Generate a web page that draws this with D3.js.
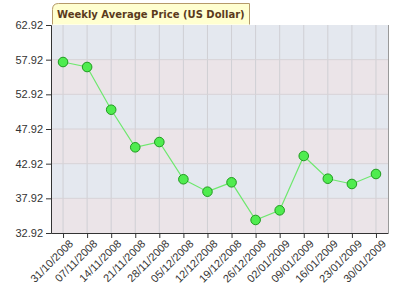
<!DOCTYPE html>
<html>
<head>
<meta charset="utf-8">
<script src="https://cdn.jsdelivr.net/npm/d3@7"></script>
<style>
  body { margin: 0; background: #fff; }
  svg { display: block; }
</style>
</head>
<body>
<div id="chart"></div>
<script>
// chart data
const dates = ["31/10/2008", "07/11/2008", "14/11/2008", "21/11/2008", "28/11/2008",
    "05/12/2008", "12/12/2008", "19/12/2008", "26/12/2008", "02/01/2009",
    "09/01/2009", "16/01/2009", "23/01/2009", "30/01/2009"];
const prices = [57.58, 56.86, 50.70, 45.28, 46.04, 40.67, 38.88, 40.23, 34.80, 36.19,
    44.03, 40.75, 39.99, 41.43];
const yTicks = [32.92, 37.92, 42.92, 47.92, 52.92, 57.92, 62.92];
const title = "Weekly Average Price (US Dollar)";

const width = 400, height = 298;
const margin = {top: 25, right: 12, bottom: 65, left: 51};

const svg = d3.select("#chart").append("svg")
    .attr("width", width)
    .attr("height", height);

const x = d3.scalePoint()
    .domain(dates)
    .range([margin.left, width - margin.right])
    .padding(0.5);

const y = d3.scaleLinear()
    .domain([32.92, 62.92])
    .range([height - margin.bottom, margin.top]);

// alternating background bands
for (let i = 0; i < yTicks.length - 1; i++) {
    svg.append("rect")
        .attr("x", margin.left)
        .attr("y", y(yTicks[i + 1]))
        .attr("width", width - margin.right - margin.left)
        .attr("height", y(yTicks[i]) - y(yTicks[i + 1]))
        .attr("fill", i % 2 === 0 ? "#ebe4e8" : "#e4e8ef");
}

// grid lines
svg.append("g")
    .selectAll("line.v")
    .data(dates)
    .join("line")
    .attr("x1", d => x(d)).attr("x2", d => x(d))
    .attr("y1", margin.top).attr("y2", height - margin.bottom)
    .attr("stroke", "#cfcfd4")
    .attr("stroke-width", 1);

svg.append("g")
    .selectAll("line.h")
    .data(yTicks.slice(1, -1))
    .join("line")
    .attr("x1", margin.left).attr("x2", width - margin.right)
    .attr("y1", d => y(d)).attr("y2", d => y(d))
    .attr("stroke", "#d6d2d6")
    .attr("stroke-width", 1);

// right border
svg.append("line")
    .attr("x1", width - margin.right + 0.5).attr("x2", width - margin.right + 0.5)
    .attr("y1", margin.top).attr("y2", height - margin.bottom)
    .attr("stroke", "#999");

// axes
const yAxis = svg.append("g")
    .attr("transform", `translate(${margin.left},0)`)
    .call(d3.axisLeft(y).tickValues(yTicks).tickFormat(d3.format(".2f")).tickSize(5).tickPadding(3));

const xAxis = svg.append("g")
    .attr("transform", `translate(0,${height - margin.bottom})`)
    .call(d3.axisBottom(x).tickSize(5).tickSizeOuter(0).tickPadding(3));

yAxis.select(".domain").attr("stroke", "#333");
xAxis.select(".domain").attr("stroke", "#333");
svg.selectAll(".tick line").attr("stroke", "#333");

yAxis.selectAll("text")
    .attr("font-family", "Liberation Sans, Arial, sans-serif")
    .attr("font-size", 11)
    .attr("fill", "#333");

xAxis.selectAll("text")
    .attr("font-family", "Liberation Sans, Arial, sans-serif")
    .attr("font-size", 11)
    .attr("fill", "#333")
    .attr("text-anchor", "end")
    .attr("dy", "0.35em")
    .attr("transform", "translate(2,3) rotate(-45)");

// the line
const line = d3.line()
    .x((d, i) => x(dates[i]))
    .y(d => y(d));

svg.append("path")
    .datum(prices)
    .attr("d", line)
    .attr("fill", "none")
    .attr("stroke", "#6ee86e")
    .attr("stroke-width", 1.2);

svg.selectAll("circle.pt")
    .data(prices)
    .join("circle")
    .attr("cx", (d, i) => x(dates[i]))
    .attr("cy", d => y(d))
    .attr("r", 4.8)
    .attr("fill", "#4fec4f")
    .attr("stroke", "#1f9a1f")
    .attr("stroke-width", 1);

// title box
const tg = svg.append("g");
const tText = tg.append("text")
    .attr("x", 57)
    .attr("y", 18)
    .text(title)
    .attr("font-family", "DejaVu Sans, Verdana, sans-serif")
    .attr("font-size", 10)
    .attr("font-weight", "bold")
    .attr("fill", "#5a3a1c");
const bw = tText.node().getComputedTextLength();
tg.insert("path", "text")
    .attr("d", `M52.5,24.5 V9.5 Q52.5,3.5 58.5,3.5 H${Math.round(57 + bw + 4) + 0.5} V24.5`)
    .attr("fill", "#ffffd0")
    .attr("stroke", "#b59a6a")
    .attr("stroke-width", 1);
</script>
</body>
</html>
